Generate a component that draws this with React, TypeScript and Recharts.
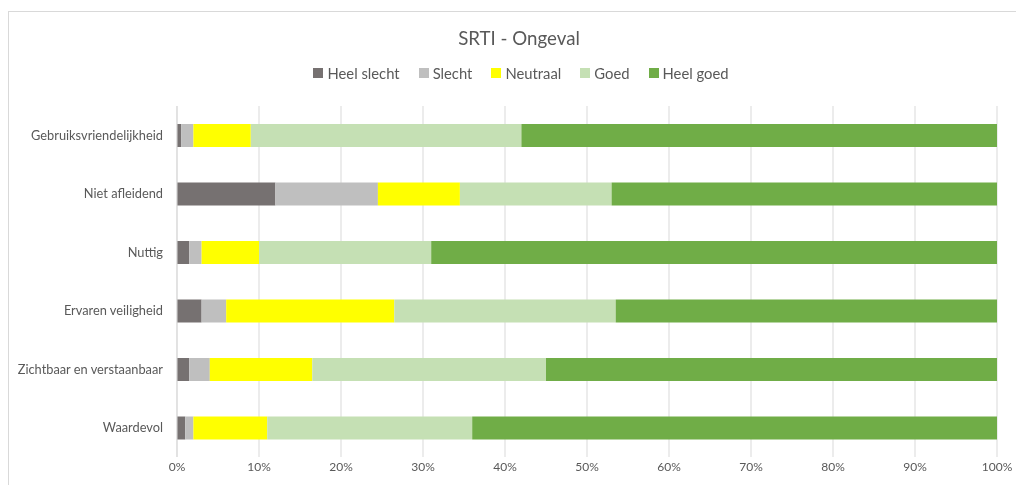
import React from "react";
import { BarChart, Bar, XAxis, YAxis, CartesianGrid } from "recharts";

const categories = [
  "Gebruiksvriendelijkheid",
  "Niet afleidend",
  "Nuttig",
  "Ervaren veiligheid",
  "Zichtbaar en verstaanbaar",
  "Waardevol",
];
const heelSlecht = [0.5, 12, 1.5, 3, 1.5, 1];
const slecht = [1.5, 12.5, 1.5, 3, 2.5, 1];
const neutraal = [7, 10, 7, 20.5, 12.5, 9];
const goed = [33, 18.5, 21, 27, 28.5, 25];
const heelGoed = [58, 47, 69, 46.5, 55, 64];
const xTicks = [0, 10, 20, 30, 40, 50, 60, 70, 80, 90, 100];

const seriesNames = ["Heel slecht", "Slecht", "Neutraal", "Goed", "Heel goed"];
const seriesKeys = ["hs", "s", "n", "g", "hg"];
const seriesColors = ["#767171", "#bfbfbf", "#ffff00", "#c5e0b4", "#70ad47"];
const seriesValues = [heelSlecht, slecht, neutraal, goed, heelGoed];

const data = categories.map((c, i) => {
  const row: Record<string, any> = { name: c };
  seriesKeys.forEach((k, j) => {
    row[k] = seriesValues[j][i];
  });
  return row;
});

const FONT = "Lato, 'Open Sans', sans-serif";
const TEXT = "#595959";

export default function App() {
  return (
    <div>
      <div
        style={{
          position: "fixed",
          left: 8,
          top: 11,
          width: 1014,
          height: 490,
          border: "1px solid #d9d9d9",
          boxSizing: "border-box",
          background: "#fff",
        }}
      />
      <div
        style={{
          position: "fixed",
          left: 0,
          top: 0,
          width: 1016,
          height: 485,
          fontFamily: FONT,
        }}
      >
        <div
          style={{
            position: "absolute",
            left: 0,
            width: 1038,
            top: 26,
            textAlign: "center",
            fontSize: 18.7,
            color: TEXT,
            lineHeight: "24px",
          }}
        >
          SRTI - Ongeval
        </div>
        <div
          style={{
            position: "absolute",
            left: 0,
            width: 1042,
            top: 63,
            display: "flex",
            justifyContent: "center",
            fontSize: 14.8,
            color: TEXT,
            lineHeight: "20px",
          }}
        >
          {seriesNames.map((nm, i) => (
            <div
              key={nm}
              style={{ display: "flex", alignItems: "center", marginRight: i < seriesNames.length - 1 ? 19 : 0 }}
            >
              <span
                style={{
                  display: "inline-block",
                  width: 10,
                  height: 10,
                  background: seriesColors[i],
                  marginRight: 4,
                }}
              />
              <span>{nm}</span>
            </div>
          ))}
        </div>
        <div style={{ position: "absolute", left: 0, top: 0 }}>
          <BarChart
            width={1016}
            height={485}
            data={data}
            layout="vertical"
            margin={{ top: 106, right: 19, bottom: 8, left: 0 }}
            barCategoryGap={0}
          >
            <CartesianGrid horizontal={false} vertical={true} stroke="#d9d9d9" strokeWidth={1} />
            <XAxis
              type="number"
              domain={[0, 100]}
              ticks={xTicks}
              interval={0}
              tickFormatter={(v: number) => `${v}%`}
              axisLine={false}
              tickLine={false}
              tickSize={0}
              tickMargin={5}
              height={20}
              tick={{ fill: TEXT, fontSize: 12, fontFamily: FONT }}
            />
            <YAxis
              type="category"
              dataKey="name"
              width={177}
              axisLine={{ stroke: "#d9d9d9" }}
              tickLine={false}
              tickSize={0}
              tickMargin={14}
              tick={{ fill: TEXT, fontSize: 12.8, fontFamily: FONT }}
            />
            {seriesKeys.map((k, i) => (
              <Bar
                key={k}
                dataKey={k}
                name={seriesNames[i]}
                stackId="a"
                fill={seriesColors[i]}
                barSize={23}
                isAnimationActive={false}
              />
            ))}
          </BarChart>
        </div>
      </div>
    </div>
  );
}
